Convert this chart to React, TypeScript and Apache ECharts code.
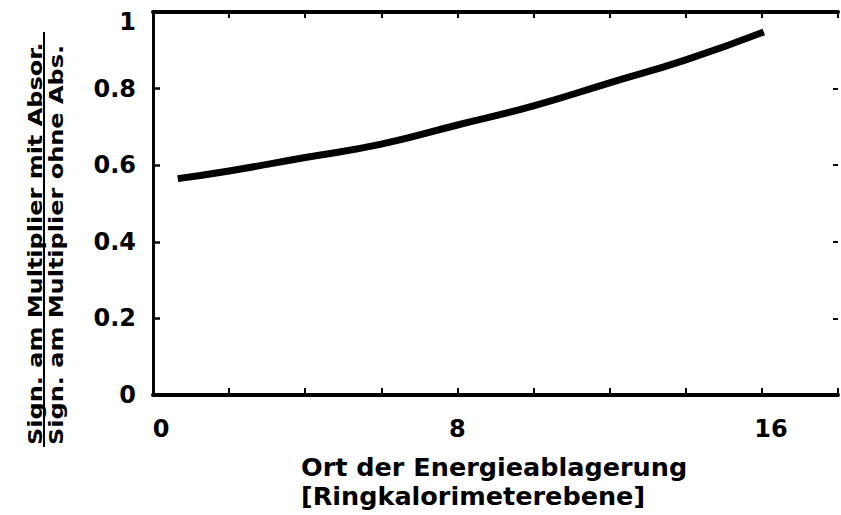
import React, { useEffect, useRef } from "react";
import * as echarts from "echarts";

// Position of energy deposit (ring calorimeter plane) and signal ratio with/without absorber
const depositPlane = [0.65, 2, 4, 6, 8, 10, 12, 14, 16.05];
const signalRatio = [0.565, 0.585, 0.62, 0.655, 0.705, 0.755, 0.815, 0.875, 0.948];

// Labelled x ticks (ticks every 2 planes)
const xLabelValues = [0, 8, 16];

const yTitleTop = "Sign. am Multiplier mit Absor.";
const yTitleBottom = "Sign. am Multiplier ohne Abs.";
const xTitle = "Ort der Energieablagerung\n[Ringkalorimeterebene]";

const FONT = "DejaVu Sans";

export default function App() {
  const ref = useRef<HTMLDivElement>(null);

  useEffect(() => {
    if (!ref.current) return;
    const chart = echarts.init(ref.current, null, { renderer: "svg" });

    const labelFont = { fontFamily: FONT, fontWeight: "bold", fontSize: 24, color: "#000" };

    chart.setOption({
      animation: false,
      backgroundColor: "#fff",
      grid: { left: 153, right: -2, top: 12, bottom: 120, containLabel: false },
      xAxis: [
        {
          type: "value",
          position: "bottom",
          min: 0,
          max: 18,
          interval: 2,
          axisLine: { show: true, onZero: false, lineStyle: { color: "#000", width: 4 } },
          splitLine: { show: false },
          axisTick: { show: true, inside: true, length: 7, lineStyle: { color: "#000", width: 2 } },
          axisLabel: {
            show: true,
            interval: 0,
            margin: 22,
            ...labelFont,
            formatter: (v: number) => {
              if (!xLabelValues.includes(v)) return "";
              if (v === 0) return "{a|0}";
              if (v === 16) return "{b|16}";
              return String(v);
            },
            rich: {
              a: { ...labelFont, padding: [0, 0, 0, 16] },
              b: { ...labelFont, padding: [0, 0, 0, 18] },
            },
          },
        },
        {
          type: "value",
          position: "top",
          min: 0,
          max: 18,
          interval: 2,
          axisLine: { show: true, onZero: false, lineStyle: { color: "#000", width: 4 } },
          splitLine: { show: false },
          axisTick: { show: true, inside: true, length: 6, lineStyle: { color: "#000", width: 2 } },
          axisLabel: { show: false },
        },
      ],
      yAxis: [
        {
          type: "value",
          position: "left",
          min: 0,
          max: 1,
          interval: 0.2,
          axisLine: { show: true, onZero: false, lineStyle: { color: "#000", width: 3 } },
          splitLine: { show: false },
          axisTick: { show: true, inside: true, length: 7, lineStyle: { color: "#000", width: 2.5 } },
          axisLabel: {
            show: true,
            margin: 17,
            ...labelFont,
            formatter: (v: number) => {
              if (Math.abs(v - 1) < 1e-9) return "{top|1}";
              if (Math.abs(v) < 1e-9) return "0";
              return v.toFixed(1);
            },
            rich: {
              top: { ...labelFont, padding: [20, 0, 0, 0] },
            },
          },
        },
        {
          // right frame edge lies just outside the page; only its inward ticks show
          type: "value",
          position: "right",
          min: 0,
          max: 1,
          interval: 0.2,
          axisLine: { show: false, onZero: false },
          splitLine: { show: false },
          axisTick: { show: true, inside: true, length: 5, lineStyle: { color: "#000", width: 2 } },
          axisLabel: { show: false },
        },
      ],
      series: [
        {
          type: "line",
          xAxisIndex: 0,
          yAxisIndex: 0,
          smooth: true,
          showSymbol: false,
          symbol: "none",
          lineStyle: { color: "#000", width: 7, cap: "butt" },
          data: depositPlane.map((x, i) => [x, signalRatio[i]]),
        },
      ],
      graphic: [
        {
          type: "text",
          x: 35,
          y: 445,
          rotation: Math.PI / 2,
          scaleX: 1.2,
          style: {
            text: yTitleTop,
            fill: "#000",
            font: `bold 20px "${FONT}"`,
            textAlign: "left",
            textVerticalAlign: "middle",
          },
        },
        {
          type: "line",
          shape: { x1: 44, y1: 447, x2: 44, y2: 32 },
          style: { stroke: "#000", lineWidth: 2 },
        },
        {
          type: "text",
          x: 56,
          y: 445,
          rotation: Math.PI / 2,
          scaleX: 1.2,
          style: {
            text: yTitleBottom,
            fill: "#000",
            font: `bold 20px "${FONT}"`,
            textAlign: "left",
            textVerticalAlign: "middle",
          },
        },
        {
          type: "text",
          x: 301,
          y: 452,
          style: {
            text: xTitle,
            fill: "#000",
            font: `bold 25.5px "${FONT}"`,
            lineHeight: 29,
            textAlign: "left",
            textVerticalAlign: "top",
          },
        },
      ],
    });

    return () => chart.dispose();
  }, []);

  return (
    <div
      ref={ref}
      style={{ position: "fixed", left: 0, top: 0, width: 841, height: 515, background: "#fff" }}
    />
  );
}
